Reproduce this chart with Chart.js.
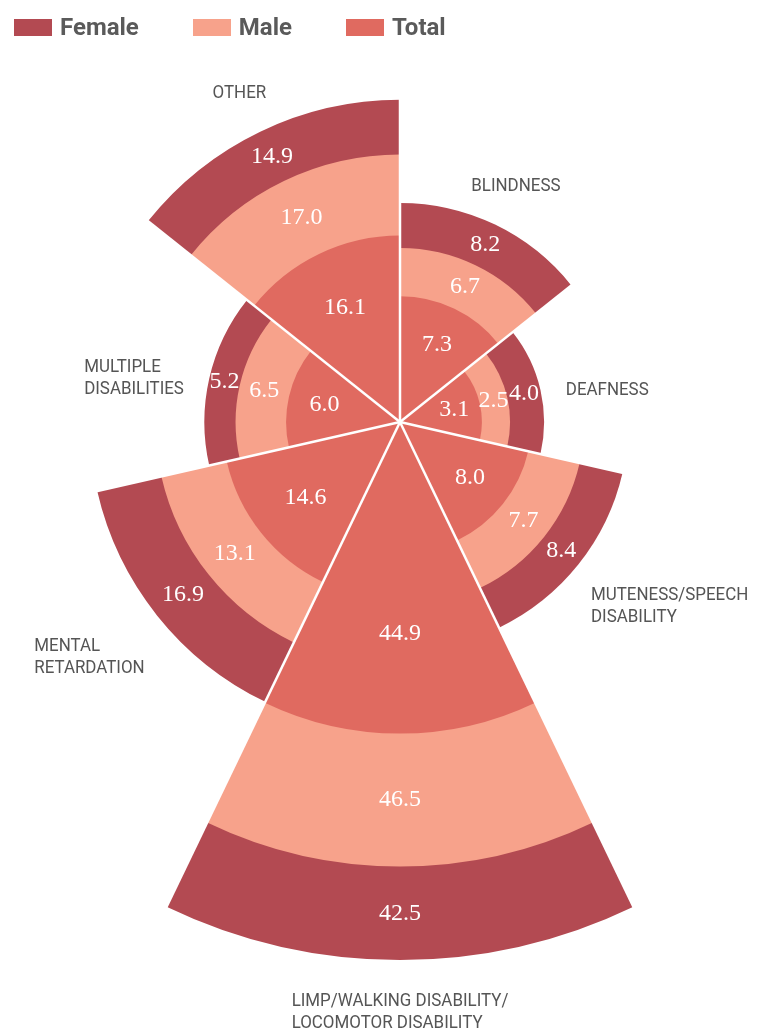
<!DOCTYPE html>
<html>
<head>
<meta charset="utf-8">
<title>Disability by type and sex</title>
<script src="https://cdn.jsdelivr.net/npm/chart.js@4.4.0/dist/chart.umd.min.js"></script>
<style>
  html, body { margin: 0; padding: 0; background: #fff; }
  #wrap { position: relative; width: 757px; height: 1033px; overflow: hidden; }
  #chart { position: absolute; left: 0; top: 0; }
  #legend { position: absolute; left: 14px; top: 13px; height: 28px; display: flex; gap: 54px;
            font: bold 24px Roboto, "Open Sans", sans-serif; color: #5a5a5a; z-index: 2; }
  #legend .item { display: flex; align-items: center; }
  #legend .box { width: 38px; height: 17px; margin-right: 8px; }
</style>
</head>
<body>
<div id="wrap">
  <div id="legend"></div>
  <canvas id="chart" width="757" height="1033"></canvas>
</div>
<script>
// categories, clockwise from 12 o'clock
const categories = [
    ['BLINDNESS'],
    ['DEAFNESS'],
    ['MUTENESS/SPEECH', 'DISABILITY'],
    ['LIMP/WALKING DISABILITY/', 'LOCOMOTOR DISABILITY'],
    ['MENTAL', 'RETARDATION'],
    ['MULTIPLE', 'DISABILITIES'],
    ['OTHER']
];
const total  = [7.3, 3.1, 8.0, 44.9, 14.6, 6.0, 16.1];
const male   = [6.7, 2.5, 7.7, 46.5, 13.1, 6.5, 17.0];
const female = [8.2, 4.0, 8.4, 42.5, 16.9, 5.2, 14.9];

const colorFemale = '#b34a52';
const colorMale = '#f7a28b';
const colorTotal = '#e06a60';

// rings are stacked outwards: total, then male, then female
const ringMale = total.map((v, i) => v + male[i]);
const ringFemale = ringMale.map((v, i) => v + female[i]);

// radial scale where the distance grows with the square root (area ~ value)
class RadialSqrtScale extends Chart.RadialLinearScale {
    static id = 'radialSqrt';
    getDistanceFromCenterForValue(value) {
        if (isNaN(value)) return NaN;
        const frac = Math.max(value - this.min, 0) / (this.max - this.min);
        return this.drawingArea * Math.sqrt(frac);
    }
}
Chart.register(RadialSqrtScale);

// html legend
const legendItems = [['Female', colorFemale], ['Male', colorMale], ['Total', colorTotal]];
document.getElementById('legend').innerHTML = legendItems
    .map(([name, c]) => `<div class="item"><span class="box" style="background:${c}"></span>${name}</div>`)
    .join('');

const separators = {
    id: 'separators',
    afterDatasetsDraw(chart) {
        const scale = chart.scales.r;
        const outer = chart.getDatasetMeta(2).data;
        const ctx = chart.ctx;
        ctx.save();
        ctx.strokeStyle = '#fff';
        ctx.lineWidth = 2.5;
        outer.forEach((arc, i) => {
            const prev = outer[(i + outer.length - 1) % outer.length];
            const len = Math.max(arc.outerRadius, prev.outerRadius) + 2;
            ctx.beginPath();
            ctx.moveTo(scale.xCenter, scale.yCenter);
            ctx.lineTo(scale.xCenter + Math.cos(arc.startAngle) * len, scale.yCenter + Math.sin(arc.startAngle) * len);
            ctx.stroke();
        });
        ctx.restore();
    }
};

const valueLabels = {
    id: 'valueLabels',
    afterDatasetsDraw(chart) {
        const scale = chart.scales.r;
        const ctx = chart.ctx;
        ctx.save();
        ctx.font = '24px "Liberation Serif", serif';
        ctx.fillStyle = '#fff';
        ctx.textAlign = 'center';
        ctx.textBaseline = 'middle';
        chart.data.datasets.forEach((ds, d) => {
            const arcs = chart.getDatasetMeta(d).data;
            arcs.forEach((arc, i) => {
                const inner = d > 0 ? chart.getDatasetMeta(d - 1).data[i].outerRadius : 0;
                const r = d === 0 ? arc.outerRadius * 0.68 : (inner + arc.outerRadius) / 2;
                const a = (arc.startAngle + arc.endAngle) / 2;
                ctx.fillText(ds.raw[i].toFixed(1), scale.xCenter + Math.cos(a) * r, scale.yCenter + Math.sin(a) * r);
            });
        });
        ctx.restore();
    }
};

const categoryLabels = {
    id: 'categoryLabels',
    afterDatasetsDraw(chart) {
        const scale = chart.scales.r;
        const ctx = chart.ctx;
        const outer = chart.getDatasetMeta(2).data;
        const lh = 22;
        const squeeze = 0.94;
        ctx.save();
        ctx.font = '18px Roboto, sans-serif';
        ctx.fillStyle = '#555';
        ctx.textBaseline = 'middle';
        ctx.textAlign = 'left';
        outer.forEach((arc, i) => {
            const lines = categories[i];
            const a = (arc.startAngle + arc.endAngle) / 2;
            const r = arc.outerRadius + 26;
            const sx = Math.cos(a), up = -Math.sin(a);
            let x = scale.xCenter + sx * r;
            let y = scale.yCenter + Math.sin(a) * r;
            const w = Math.max(...lines.map(l => ctx.measureText(l).width)) * squeeze;
            // labels below the middle sit a little closer in
            if (up < -0.5) { x -= sx * 10; y += 4; }
            // block of left-aligned lines, placed by its bounding box
            let left = x - w / 2 + sx * 22;
            if (sx > 0.5) left = x;
            else if (sx < -0.5) left = x - w;
            let top = y - lines.length * lh / 2 + 6;
            if (up > 0.5) top = y - lines.length * lh - 4;
            else if (up < -0.5) top = y;
            lines.forEach((line, k) => {
                ctx.save();
                ctx.translate(left, top + lh * (k + 0.5));
                ctx.scale(squeeze, 1);
                ctx.fillText(line, 0, 0);
                ctx.restore();
            });
        });
        ctx.restore();
    }
};

new Chart(document.getElementById('chart'), {
    type: 'polarArea',
    data: {
        labels: categories.map(c => c.join(' ')),
        datasets: [
            { label: 'Total', data: total, raw: total, backgroundColor: colorTotal, borderWidth: 0, clip: false },
            { label: 'Male', data: ringMale, raw: male, backgroundColor: colorMale, borderWidth: 0, clip: false },
            { label: 'Female', data: ringFemale, raw: female, backgroundColor: colorFemale, borderWidth: 0, clip: false }
        ]
    },
    options: {
        responsive: false,
        animation: false,
        devicePixelRatio: 1,
        layout: { padding: { left: 52, right: 8, top: 74, bottom: 262 } },
        scales: {
            r: {
                type: 'radialSqrt',
                min: 0,
                max: 56,
                startAngle: 0,
                grid: { display: false },
                angleLines: { display: false },
                ticks: { display: false },
                pointLabels: { display: false }
            }
        },
        plugins: {
            legend: { display: false },
            tooltip: { enabled: false }
        }
    },
    plugins: [separators, valueLabels, categoryLabels]
});
</script>
</body>
</html>
